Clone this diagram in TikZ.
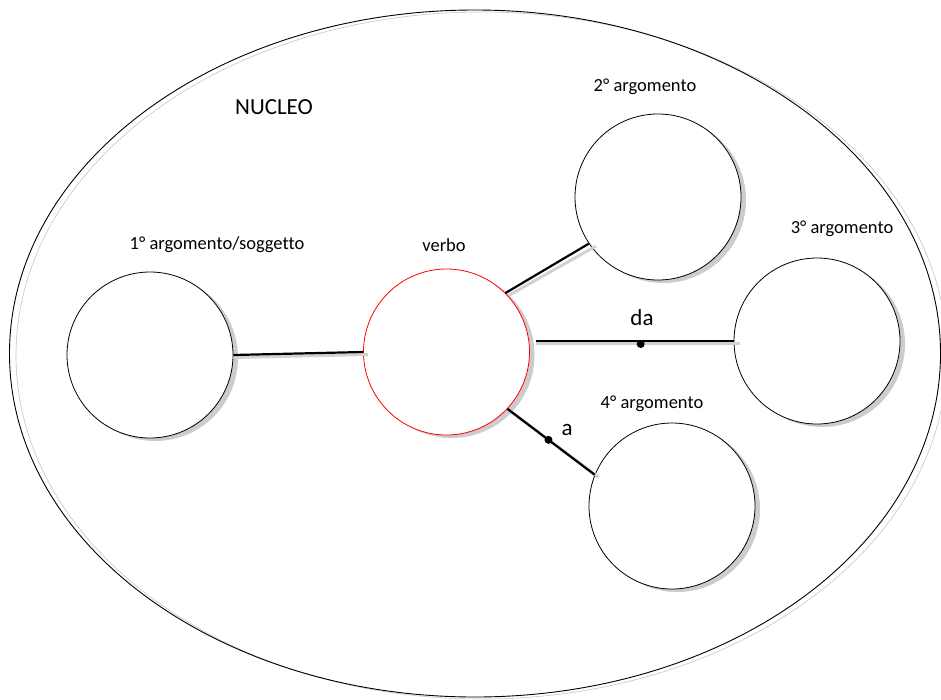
\documentclass[tikz,border=0pt]{standalone}
\usepackage{fontspec}
\setmainfont[Ligatures=NoCommon]{Carlito}
\usetikzlibrary{shadows}
\begin{document}
\begin{tikzpicture}[x=1pt,y=-1pt,
  argc/.style={circle, draw=black, line width=0.8pt, fill=white, minimum size=166pt, inner sep=0pt,
     general shadow={shadow xshift=5pt, shadow yshift=-3pt, fill=gray!40}},
  verbc/.style={argc, draw=red},
  lbl/.style={font=\fontsize{18.5}{20}\selectfont, inner sep=0pt},
  big/.style={font=\fontsize{23}{26}\selectfont, inner sep=0pt},
  link/.style={line width=2.2pt, black},
  linkshadow/.style={line width=3pt, gray!35},
  dotm/.style={circle, fill=black, inner sep=0pt, minimum size=8pt}]
\useasboundingbox (0,0) rectangle (941,699);
\fill[white] (0,0) rectangle (941,699);
% outer ellipse
\draw[gray!45, line width=0.6pt] (481.5,355.5) ellipse [x radius=465.5, y radius=343.5];
\draw[black, line width=0.9pt] (475,353.5) ellipse [x radius=465.5, y radius=343.5];
\node[big] (nucleo) at (274,107) {NUCLEO};
% circles
\node[argc] (a1) at (150,355) {};
\node[verbc] (verbo) at (446.5,352) {};
\node[argc] (a2) at (658,197) {};
\node[argc] (a3) at (817,341) {};
\node[argc] (a4) at (672,506) {};
% labels
\node[lbl] (l1) at (217,245) {1° argomento/soggetto};
\node[lbl] (lv) at (444,245) {verbo};
\node[lbl] (l2) at (645,87) {2° argomento};
\node[lbl] (l3) at (842,229) {3° argomento};
\node[lbl] (l4) at (652,404) {4° argomento};
% connectors: shadows
\draw[linkshadow] ([xshift=0pt,yshift=-2.5pt]a1.east) -- ([xshift=5pt,yshift=-2.5pt]verbo.west);
\draw[linkshadow] ([xshift=3pt,yshift=-2.5pt]verbo.45) -- ([xshift=7pt,yshift=-2.5pt]a2.214);
\draw[linkshadow] ([xshift=6pt,yshift=-2.5pt]verbo.east |- a3.west) -- ([xshift=6pt,yshift=-2.5pt]a3.west);
\draw[linkshadow] ([xshift=3pt,yshift=-2.5pt]verbo.-43) -- ([xshift=4pt,yshift=-2.5pt]a4.158);
% connectors
\draw[link] (a1.east) -- (verbo.west);
\draw[link] (verbo.45) -- (a2.214);
\draw[link] ([xshift=6pt]verbo.east |- a3.west) -- (a3.west)
   node[dotm, pos=0.53, yshift=-3pt] (dda) {};
\draw[link] (verbo.-43) -- (a4.158)
   node[dotm, pos=0.47] (da) {};
\node[big] (tda) at (642,318) {da};
\node[big] (ta) at (567,430) {a};
\end{tikzpicture}
\end{document}
